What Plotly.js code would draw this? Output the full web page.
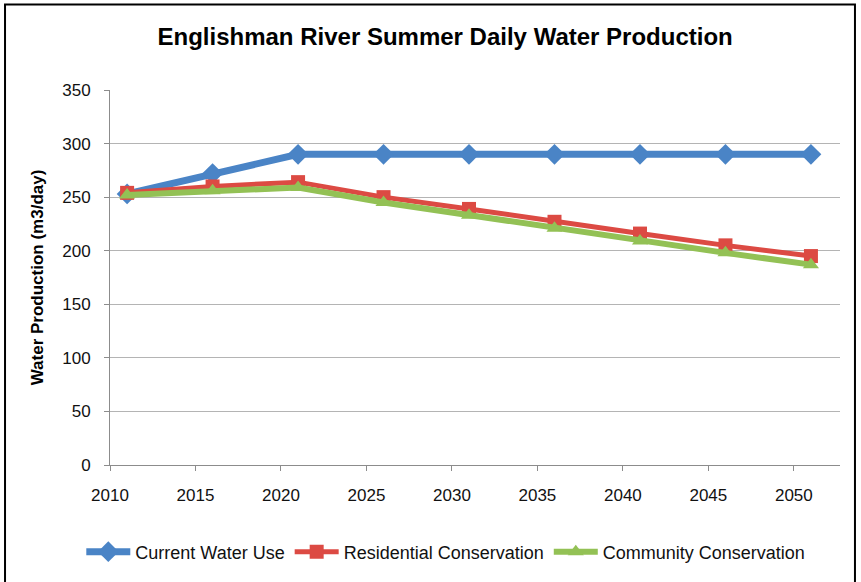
<!DOCTYPE html>
<html>
<head>
<meta charset="utf-8">
<script src="https://cdn.plot.ly/plotly-3.0.1.min.js"></script>
<style>
html,body{margin:0;padding:0;background:#fff;}
#chart{width:861px;height:582px;}
</style>
</head>
<body>
<div id="chart"></div>
<script>
var years = [2011, 2016, 2021, 2026, 2031, 2036, 2041, 2046, 2051];
var currentWaterUse = [253, 272, 290, 290, 290, 290, 290, 290, 290];
var residentialConservation = [254, 260, 264, 250, 239, 227, 216, 205, 195];
var communityConservation = [252, 256, 259, 245, 233, 221, 209, 198, 187];
var xTickValues = [2010, 2015, 2020, 2025, 2030, 2035, 2040, 2045, 2050];
var yTickValues = [0, 50, 100, 150, 200, 250, 300, 350];

var traces = [
  {x: years, y: currentWaterUse, name: 'Current Water Use', type: 'scatter', mode: 'lines+markers',
   line: {color: '#4a84c6', width: 7}, marker: {symbol: 'diamond', size: 16, color: '#4a84c6'}},
  {x: years, y: residentialConservation, name: 'Residential Conservation', type: 'scatter', mode: 'lines+markers',
   line: {color: '#dc4a43', width: 5}, marker: {symbol: 'square', size: 14, color: '#dc4a43'}},
  {x: years, y: communityConservation, name: 'Community Conservation', type: 'scatter', mode: 'lines+markers',
   line: {color: '#93c155', width: 6}, marker: {symbol: 'triangle-up', size: 14, color: '#93c155'}}
];

var layout = {
  width: 861, height: 582,
  margin: {l: 110, r: 21, t: 90, b: 110},
  paper_bgcolor: '#ffffff', plot_bgcolor: '#ffffff',
  font: {family: 'Liberation Sans, Arial, sans-serif', color: '#000', size: 14},
  title: {text: '<b>Englishman River Summer Daily Water Production</b>',
          font: {family: 'Liberation Sans, Arial, sans-serif', size: 24, color: '#000'},
          x: 0.517, xanchor: 'center', y: 0.937, yanchor: 'middle'},
  xaxis: {range: [2010, 2052.7], tickvals: xTickValues, ticktext: xTickValues.map(String),
          showgrid: false, zeroline: false, showline: true, linecolor: '#8c8c8c', linewidth: 1,
          ticks: 'outside', ticklen: 5, tickcolor: '#8c8c8c', ticklabelstandoff: 10,
          tickfont: {size: 17, color: '#111'}},
  yaxis: {range: [0, 350], tickvals: yTickValues, showgrid: true, gridcolor: '#b4b4b4', gridwidth: 1,
          zeroline: false, showline: true, linecolor: '#8c8c8c', linewidth: 1,
          ticks: 'outside', ticklen: 5, tickcolor: '#8c8c8c', ticklabelstandoff: 10,
          tickfont: {size: 17, color: '#111'},
          title: {text: '<b>Water Production (m3/day)</b>', font: {size: 17, color: '#000'}, standoff: 14}},
  showlegend: true,
  legend: {orientation: 'h', x: 0.46, xanchor: 'center', y: -0.232, yanchor: 'middle',
           font: {size: 18, color: '#111'}, itemwidth: 44, tracegroupgap: 0},
  shapes: [
    {type: 'rect', xref: 'paper', yref: 'paper', x0: -0.1438, x1: 1.0205, y0: -0.35, y1: 1.2277,
     line: {color: '#000', width: 2}, fillcolor: 'rgba(0,0,0,0)', layer: 'above'}
  ]
};

Plotly.newPlot('chart', traces, layout, {displayModeBar: false, staticPlot: true});
</script>
</body>
</html>
